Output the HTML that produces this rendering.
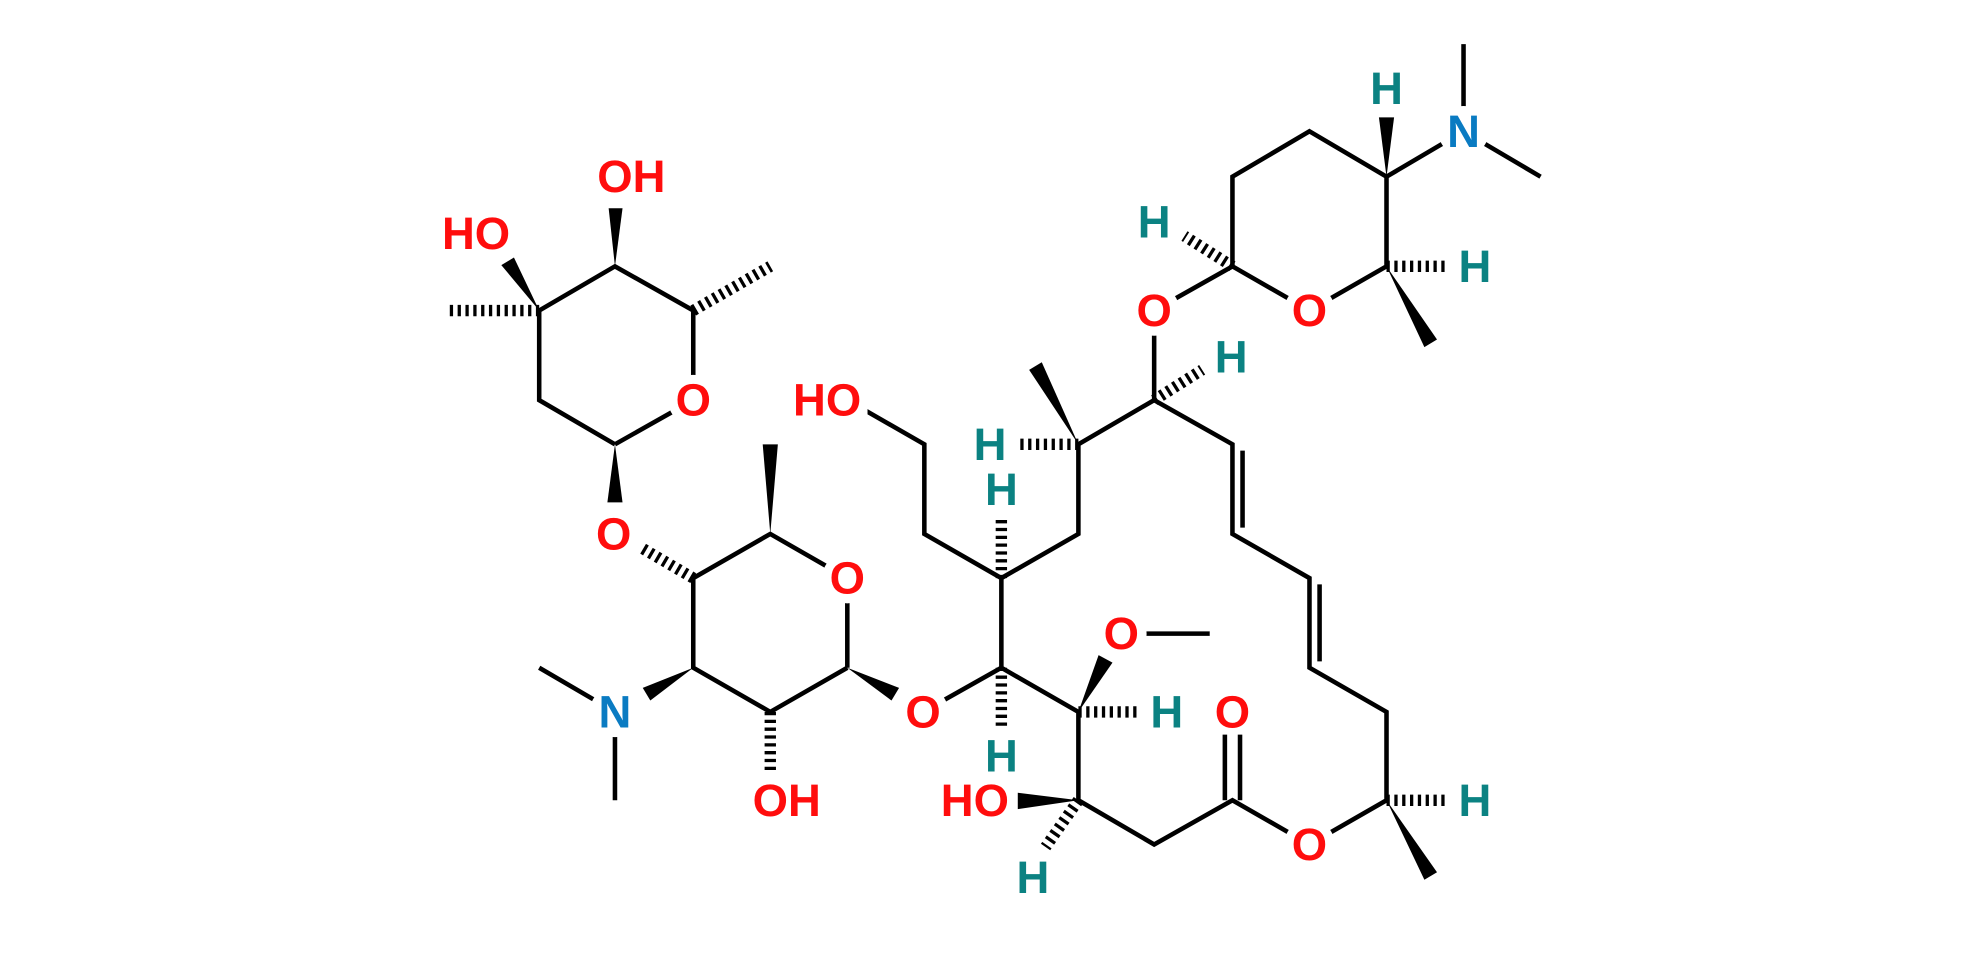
<!DOCTYPE html>
<html><head><meta charset="utf-8"><style>
html,body{margin:0;padding:0;background:#fff;width:1980px;height:953px;overflow:hidden}
svg{display:block}
text{font-family:"Liberation Sans",sans-serif;font-weight:bold;font-size:36px;text-anchor:middle;dominant-baseline:central}
.o{fill:#ff0d0d}.n{fill:#0a7bc2}.h{fill:#0b8282}
</style></head><body>
<svg width="1980" height="953" viewBox="0 0 1568 755" preserveAspectRatio="none">
<g stroke="#000" stroke-width="3.6" fill="none" stroke-linecap="butt">
<path d="M1037,104 L1098,140 L1098,211 L1037,246 L976,211 L976,140 Z"/>
<path d="M1098,140 L1159,104 M1159,104 L1159,35 M1159,104 L1220,140"/>
<path d="M976,211 L914,246 L914,317"/>
<path d="M914,317 L854,352 L854,423 L793,458 L793,529 L854,564 L854,634 L914,669 L976,634 L1037,669 L1098,634 L1098,564 L1037,529 L1037,458 L976,423 L976,352 Z"/>
<path d="M984,357 L984,418 M1045,463 L1045,524"/>
<path d="M970,634 L970,582 M982,634 L982,582"/>
<path d="M793,458 L732,423 L732,352 L671,317"/>
<path d="M793,529 L731,564"/>
<path d="M888,502 L958,502"/>
<path d="M671,529 L671,458 L610,423 L549,458 L549,529 L610,564 L671,529"/>
<path d="M487,564 L427,529 M487,564 L487,634"/>
<path d="M487,352 L427,317 L427,246 L487,211 L549,246 L549,317 L487,352"/>
</g>
<g fill="#000">
<polygon points="1098,140 1092,93 1104,93"/>
<polygon points="1098,211 1128,275 1138,269"/>
<polygon points="854,352 825,287 815,293"/>
<polygon points="1098,634 1128,697 1138,691"/>
<polygon points="854,634 806,628 806,641"/>
<polygon points="854,564 881,525 870,519"/>
<polygon points="671,529 706,555 712,545"/>
<polygon points="610,423 604,352 616,352"/>
<polygon points="549,529 509,545 515,555"/>
<polygon points="487,352 481,398 493,398"/>
<polygon points="427,246 407,204 397,210"/>
<polygon points="487,211 482,165 493,165"/>
</g>
<g stroke="#000" stroke-width="9" stroke-dasharray="2.6 3.6" fill="none">
<path d="M1098,211 L1145,211"/>
<path d="M976,211 L938,187"/>
<path d="M914,317 L952,293"/>
<path d="M854,352 L805,352"/>
<path d="M793,458 L793,410"/>
<path d="M1098,634 L1145,634"/>
<path d="M854,564 L902,564"/>
<path d="M793,529 L793,578"/>
<path d="M854,634 L828,671"/>
<path d="M549,458 L508,434"/>
<path d="M610,564 L610,612"/>
<path d="M427,246 L356,246"/>
<path d="M549,246 L610,211"/>
</g>
<g fill="#fff">
<circle cx="1159" cy="104" r="20"/>
<circle cx="1037" cy="246" r="20"/>
<circle cx="914" cy="246" r="20"/>
<circle cx="486" cy="423" r="20"/>
<circle cx="671" cy="458" r="20"/>
<circle cx="731" cy="564" r="20"/>
<circle cx="888" cy="502" r="20"/>
<circle cx="487" cy="564" r="20"/>
<circle cx="1037" cy="669" r="20"/>
<circle cx="549" cy="317" r="20"/>
<rect x="625" y="299" width="62" height="36"/>
</g>
<text x="1098" y="70" class="h">H</text>
<text x="1159" y="104" class="n">N</text>
<text x="1168" y="211" class="h">H</text>
<text x="1037" y="246" class="o">O</text>
<text x="914" y="176" class="h">H</text>
<text x="914" y="246" class="o">O</text>
<text x="975" y="283" class="h">H</text>
<text x="784" y="352" class="h">H</text>
<text x="793" y="388" class="h">H</text>
<text x="655" y="317" class="o">HO</text>
<text x="486" y="423" class="o">O</text>
<text x="671" y="458" class="o">O</text>
<text x="731" y="564" class="o">O</text>
<text x="888" y="502" class="o">O</text>
<text x="924" y="564" class="h">H</text>
<text x="976" y="564" class="o">O</text>
<text x="793" y="599" class="h">H</text>
<text x="487" y="564" class="n">N</text>
<text x="623" y="634" class="o">OH</text>
<text x="772" y="634" class="o">HO</text>
<text x="1037" y="669" class="o">O</text>
<text x="1168" y="634" class="h">H</text>
<text x="818" y="695" class="h">H</text>
<text x="377" y="185" class="o">HO</text>
<text x="500" y="140" class="o">OH</text>
<text x="549" y="317" class="o">O</text>
</svg>
</body></html>
